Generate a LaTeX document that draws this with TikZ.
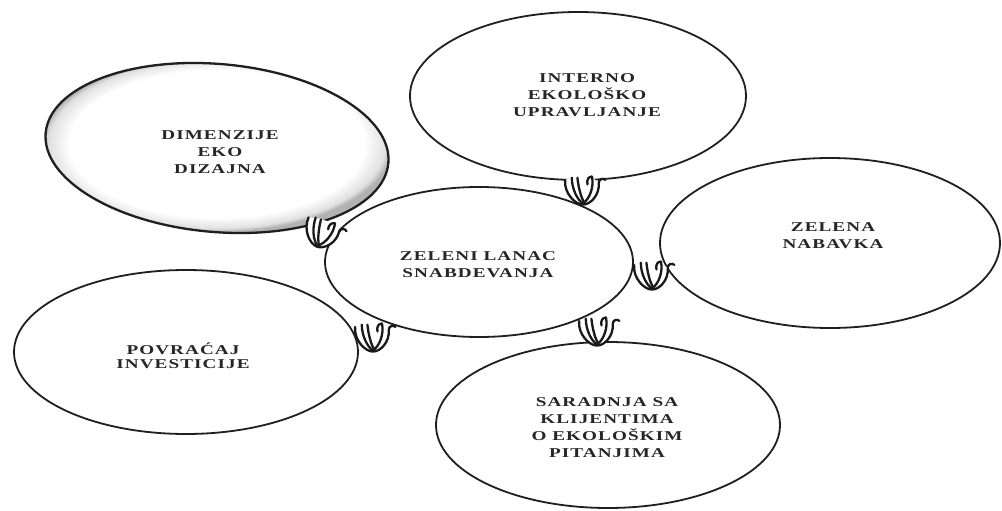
\documentclass[tikz,border=0pt]{standalone}
\usepackage{fontspec}
\newfontfamily\lblfont{Liberation Serif}[UprightFont={* Bold},FakeStretch=1.42,LetterSpace=8]
\usetikzlibrary{shapes.geometric}

% soft grey rim inside an ellipse
\pgfdeclareradialshading{rimglow}{\pgfpoint{0bp}{0bp}}{%
  color(0bp)=(white); color(21bp)=(white); color(24bp)=(black!12);
  color(25bp)=(black!30); color(50bp)=(black!30)}

\tikzset{
  bubble/.style={ellipse, draw=black!88, line width=1.8pt, fill=white, inner sep=0pt},
  caption/.style={font=\lblfont\fontsize{13.5}{17}\selectfont,
    align=center, text=black!85, inner sep=0pt},
  linkline/.style={draw=black!90, line width=2.3pt, line cap=round},
  knot/.pic={
    \begin{scope}[scale=1.12]
    \fill[white] (-16,-9) .. controls (-17,3) and (-7,13) .. (0,13)
                 .. controls (7,13) and (15,4) .. (14,-6) -- (8,-12) -- (-10,-11) -- cycle;
    \draw[linkline] (-16,-9) .. controls (-17,3) and (-7,13) .. (0,13)
                 .. controls (7,13) and (15,4) .. (14,-6)
                 .. controls (14,-10) and (18,-11) .. (20,-9);
    \draw[linkline] (-10,-11) .. controls (-10,-1) and (-5,9) .. (0,12);
    \draw[linkline] (-5,-11) .. controls (-4,-2) and (-2,6) .. (1,11);
    \draw[linkline] (8,-12) .. controls (10,-3) and (6,8) .. (0,12);
    \draw[linkline] (8,-12) .. controls (5,-12) and (3,-9) .. (4,-5);
    \end{scope}
  }
}

\begin{document}
\begin{tikzpicture}[x=1pt,y=-1pt]
\useasboundingbox (0,0) rectangle (1002,511);

% outer bubbles
\node[bubble, minimum width=344, minimum height=168, rotate=-5,
      shading=rimglow, line width=2.3pt] (dimenzije) at (217,148) {};
\node[bubble, minimum width=336, minimum height=168] (interno) at (578,96) {};
\node[bubble, minimum width=340, minimum height=170] (zelena) at (830,243) {};
\node[bubble, minimum width=344, minimum height=164] (povracaj) at (186,352) {};
\node[bubble, minimum width=344, minimum height=166] (saradnja) at (608,425) {};

% central bubble
\node[bubble, minimum width=308, minimum height=150] (lanac) at (479,262) {};

% captions
\node[caption] (lanacTxt) at (478,265) {ZELENI LANAC\\SNABDEVANJA};
\node[caption] (internoTxt) at (587,95) {INTERNO\\EKOLOŠKO\\UPRAVLJANJE};
\node[caption] (zelenaTxt) at (833,236) {ZELENA\\NABAVKA};
\node[caption] (dimenzijeTxt) at (220,152) {DIMENZIJE\\EKO\\DIZAJNA};
\node[caption, font=\lblfont\fontsize{13.5}{13.5}\selectfont] (povracajTxt) at (183,356) {POVRAĆAJ\\INVESTICIJE};
\node[caption] (saradnjaTxt) at (607,428) {SARADNJA SA\\KLIJENTIMA\\O EKOLOŠKIM\\PITANJIMA};

% links between the central bubble and the others
\pic (linkInterno) at (583,190) {knot};
\pic[rotate=-20] (linkDimenzije) at (322,233) {knot};
\pic (linkPovracaj) at (373,337) {knot};
\pic (linkZelena) at (652,275) {knot};
\pic (linkSaradnja) at (597,331) {knot};
\end{tikzpicture}
\end{document}
